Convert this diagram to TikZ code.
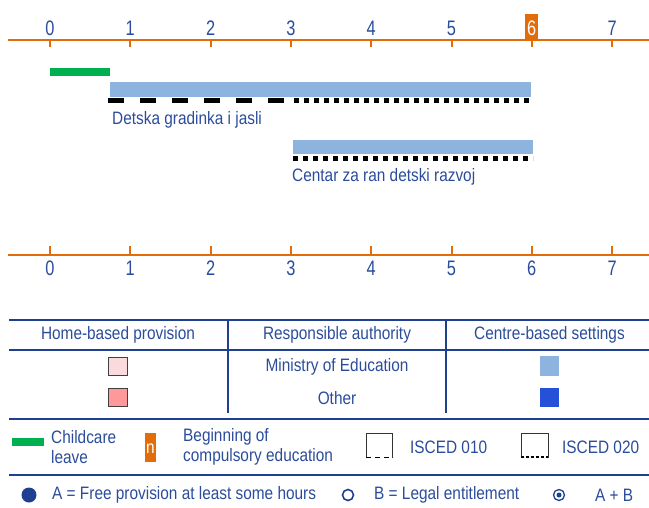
\documentclass[tikz,border=0pt]{standalone}
\usepackage{fontspec}
\setmainfont{Liberation Sans}[FakeStretch=0.855]
\newfontfamily\digitfont{Liberation Sans}[FakeStretch=0.78]
\definecolor{axisor}{RGB}{227,108,10}
\definecolor{txtblue}{RGB}{43,76,155}
\definecolor{lineblue}{RGB}{31,64,145}
\definecolor{barblue}{RGB}{141,179,223}
\definecolor{strongblue}{RGB}{37,80,216}
\definecolor{lightpink}{RGB}{250,218,221}
\definecolor{pinkred}{RGB}{255,153,153}
\definecolor{leavegreen}{RGB}{0,176,80}
\begin{document}
\begin{tikzpicture}[x=1pt,y=-1pt,
  txt/.style={inner sep=0pt,text=txtblue,font=\fontsize{18}{21}\selectfont},
  dig/.style={inner sep=0pt,text=txtblue,font=\digitfont\fontsize{21}{24}\selectfont},
  axisline/.style={draw=axisor,line width=2pt},
  rule/.style={draw=lineblue,line width=2pt},
  isced1/.style={draw=black,line width=5pt,dash pattern=on 16pt off 16pt},
  isced2/.style={draw=black,line width=5pt,dash pattern=on 5pt off 5pt}]
\useasboundingbox (0,0) rectangle (649,507);
% top axis
\fill[axisor] (525,14) rectangle (538,40);
\draw[axisline] (8,40) -- (649,40);
\foreach \a in {0,...,7} {
  \draw[axisline] ({50+80.3*\a},40) -- ({50+80.3*\a},47);
}
\foreach \a in {0,1,2,3,4,5,7} {
  \node[dig] (t\a) at ({50+80.3*\a},28) {\a};
}
\node[dig,text=white] (t6) at ({50+80.3*6},28) {6};
% bars
\fill[leavegreen] (50,68) rectangle (110,76);
\fill[barblue] (110,82) rectangle (531,97);
\draw[isced1] (108,100) -- (290,100);
\draw[isced2] (294,100) -- (531,100);
\node[txt,anchor=west] (l1) at (112,120) {Detska gradinka i jasli};
\fill[barblue] (293,140) rectangle (533,154);
\draw[isced2] (293,158) -- (533,158);
\node[txt,anchor=west] (l2) at (292,177) {Centar za ran detski razvoj};
% bottom axis
\draw[axisline] (8,254.5) -- (649,254.5);
\foreach \a in {0,...,7} {
  \draw[axisline] ({50+80.3*\a},246) -- ({50+80.3*\a},254.5);
  \node[dig] (b\a) at ({50+80.3*\a},268) {\a};
}
% table
\draw[rule] (9,320) -- (649,320);
\draw[rule] (9,350) -- (649,350);
\draw[rule] (9,419) -- (649,419);
\draw[rule] (228,320) -- (228,413);
\draw[rule] (446,320) -- (446,413);
\node[txt] (h1) at (118,335) {Home-based provision};
\node[txt] (h2) at (337,335) {Responsible authority};
\node[txt] (h3) at (549.5,335) {Centre-based settings};
\node[txt] (r1) at (337,367) {Ministry of Education};
\node[txt] (r2) at (337,398) {Other};
\draw[fill=lightpink,draw=black!75,line width=0.8pt] (108,357) rectangle (127,375);
\draw[fill=pinkred,draw=black!75,line width=0.8pt] (108,388) rectangle (127,406);
\fill[barblue] (540,356) rectangle (559,376);
\fill[strongblue] (540,388) rectangle (559,407);
% legend
\fill[leavegreen] (12,438) rectangle (44,446);
\node[txt,anchor=west] (g1) at (51,437) {Childcare};
\node[txt,anchor=west] (g2) at (51,457) {leave};
\fill[axisor] (145,433) rectangle (156,462);
\node[txt,text=white] (gn) at (150.5,449) {n};
\node[txt,anchor=west] (g3) at (183,437) {Beginning of};
\node[txt,anchor=west] (g4) at (183,457) {compulsory education};
\draw[black!80,line width=0.8pt] (366,458) -- (366,433) -- (392,433) -- (392,458);
\draw[black,line width=1.8pt,dash pattern=on 5pt off 4pt] (366,457.5) -- (393,457.5);
\node[txt,anchor=west] (g5) at (410,447) {ISCED 010};
\draw[black!80,line width=0.8pt] (521,458) -- (521,433) -- (548,433) -- (548,458);
\draw[black,line width=2.5pt,dash pattern=on 3pt off 2pt] (521,457) -- (548,457);
\node[txt,anchor=west] (g6) at (562,447) {ISCED 020};
\draw[rule] (9,475) -- (649,475);
\fill[lineblue] (29,495) circle (7.5);
\node[txt,anchor=west] (k1) at (52,495) {A = Free provision at least some hours};
\draw[lineblue,line width=1.6pt] (348,495) circle (5.5);
\node[txt,anchor=west] (k2) at (374,495) {B = Legal entitlement};
\draw[lineblue,line width=1.3pt] (559,495) circle (5.5);
\fill[lineblue] (559,495) circle (2.5);
\node[txt,anchor=west] (k3) at (595,495) {A + B};
\end{tikzpicture}
\end{document}
